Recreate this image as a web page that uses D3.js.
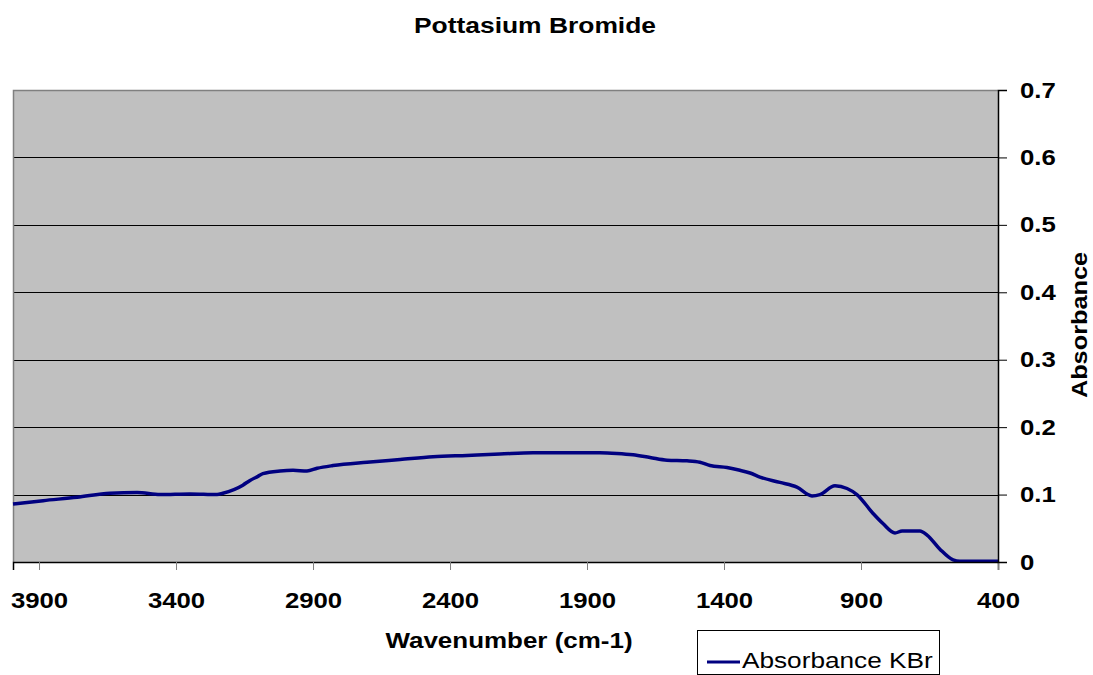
<!DOCTYPE html>
<html>
<head>
<meta charset="utf-8">
<script src="https://cdn.jsdelivr.net/npm/d3@7"></script>
<style>
  body { margin: 0; background: #fff; }
  text { font-family: Arial, "Liberation Sans", sans-serif; }
</style>
</head>
<body>
<div id="chart"></div>
<script>
// wavenumber (cm-1) and absorbance
const wavenumber = [3995, 3885, 3761, 3641, 3542, 3458, 3349, 3250, 3229, 3156, 3130, 3101, 3083, 3020, 2973, 2922, 2885, 2827, 2703, 2582, 2462, 2338, 2218, 2097, 1973, 1853, 1791, 1732, 1670, 1608, 1535, 1488, 1451, 1389, 1342, 1305, 1269, 1196, 1134, 1079, 1050, 995, 951, 915, 856, 820, 776, 750, 685, 659, 612, 564, 539, 400];
const absorbance = [0.086, 0.091, 0.096, 0.102, 0.103, 0.100, 0.101, 0.100, 0.102, 0.114, 0.121, 0.127, 0.131, 0.135, 0.136, 0.135, 0.139, 0.143, 0.148, 0.152, 0.156, 0.158, 0.160, 0.162, 0.162, 0.162, 0.161, 0.159, 0.155, 0.151, 0.150, 0.148, 0.143, 0.140, 0.136, 0.132, 0.126, 0.118, 0.111, 0.098, 0.100, 0.113, 0.109, 0.100, 0.072, 0.057, 0.043, 0.046, 0.046, 0.040, 0.019, 0.003, 0.001, 0.001];
const xTicks = [3900, 3400, 2900, 2400, 1900, 1400, 900, 400];
const yTicks = [0, 0.1, 0.2, 0.3, 0.4, 0.5, 0.6, 0.7];

const width = 1093;
const height = 675;
const margin = { top: 90, bottom: 113, left: 13, right: 95 };

const svg = d3.select('#chart')
  .append('svg')
  .attr('width', width)
  .attr('height', height);

const x = d3.scaleLinear()
  .domain([3995, 400])
  .range([margin.left, width - margin.right]);

const y = d3.scaleLinear()
  .domain([0, 0.7])
  .range([height - margin.bottom, margin.top]);

// text in the original is drawn a bit wide, stretch it
function stretch(sel, k) {
  sel.each(function () {
    const len = this.getComputedTextLength();
    d3.select(this)
      .attr('textLength', len * k)
      .attr('lengthAdjust', 'spacingAndGlyphs');
  });
}

// plot background
svg.append('rect')
  .attr('x', x(3995))
  .attr('y', y(0.7))
  .attr('width', x(400) - x(3995))
  .attr('height', y(0) - y(0.7))
  .attr('fill', '#c0c0c0');

// gridlines
svg.append('g')
  .selectAll('line')
  .data(yTicks.filter(d => d > 0 && d < 0.7))
  .join('line')
    .attr('x1', x(3995))
    .attr('x2', x(400))
    .attr('y1', d => Math.round(y(d)) + 0.5)
    .attr('y2', d => Math.round(y(d)) + 0.5)
    .attr('stroke', '#000')
    .attr('stroke-width', 1);

// top and left border
svg.append('path')
  .attr('d', `M${x(3995) + 0.5},${y(0)}V${Math.round(y(0.7)) + 0.5}H${x(400)}`)
  .attr('fill', 'none')
  .attr('stroke', '#808080')
  .attr('stroke-width', 1.5);

// spectrum
const line = d3.line()
  .x((d, i) => x(wavenumber[i]))
  .y(d => y(d))
  .curve(d3.curveMonotoneX);

svg.append('path')
  .datum(absorbance)
  .attr('d', line)
  .attr('fill', 'none')
  .attr('stroke', '#000080')
  .attr('stroke-width', 3.5)
  .attr('stroke-linejoin', 'round');

function xAxis(g) {
  g.attr('transform', `translate(0,${height - margin.bottom})`)
    .call(d3.axisBottom(x).tickValues(xTicks).tickSize(8).tickPadding(22).tickFormat(d3.format('d')))
    .call(g => g.select('.domain').attr('stroke', '#000').attr('stroke-width', 1.5))
    .call(g => g.selectAll('.tick line').attr('stroke', '#808080'))
    .attr('font-size', '22px')
    .attr('font-weight', 'bold')
    .attr('font-family', 'Arial, "Liberation Sans", sans-serif')
    .attr('color', '#000');
  g.selectAll('.tick text').call(stretch, 1.17);
}

function yAxis(g) {
  g.attr('transform', `translate(${width - margin.right},0)`)
    .call(d3.axisRight(y).tickValues(yTicks).tickSize(9).tickPadding(13).tickFormat(d => d === 0 ? '0' : d3.format('.1f')(d)))
    .call(g => g.select('.domain').attr('stroke', '#000').attr('stroke-width', 1.5))
    .attr('font-size', '22px')
    .attr('font-weight', 'bold')
    .attr('font-family', 'Arial, "Liberation Sans", sans-serif')
    .attr('color', '#000');
  g.selectAll('.tick text').call(stretch, 1.17);
}

svg.append('g').call(xAxis);
svg.append('g').call(yAxis);

// titles
svg.append('text')
  .attr('x', 535)
  .attr('y', 33)
  .attr('text-anchor', 'middle')
  .attr('font-size', '22px')
  .attr('font-weight', 'bold')
  .text('Pottasium Bromide')
  .call(stretch, 1.2);

svg.append('text')
  .attr('x', 509)
  .attr('y', 648)
  .attr('text-anchor', 'middle')
  .attr('font-size', '22px')
  .attr('font-weight', 'bold')
  .text('Wavenumber (cm-1)')
  .call(stretch, 1.18);

svg.append('text')
  .attr('transform', 'translate(1087,325) rotate(-90)')
  .attr('text-anchor', 'middle')
  .attr('font-size', '22px')
  .attr('font-weight', 'bold')
  .text('Absorbance')
  .call(stretch, 1.15);

// legend
const legend = svg.append('g').attr('transform', 'translate(697,630)');
legend.append('rect')
  .attr('x', 0.5)
  .attr('y', 0.5)
  .attr('width', 242)
  .attr('height', 44)
  .attr('fill', '#fff')
  .attr('stroke', '#000')
  .attr('stroke-width', 1);
legend.append('line')
  .attr('x1', 10)
  .attr('x2', 43)
  .attr('y1', 32)
  .attr('y2', 32)
  .attr('stroke', '#000080')
  .attr('stroke-width', 3);
legend.append('text')
  .attr('x', 45)
  .attr('y', 38)
  .attr('font-size', '22px')
  .text('Absorbance KBr')
  .call(stretch, 1.19);
</script>
</body>
</html>
